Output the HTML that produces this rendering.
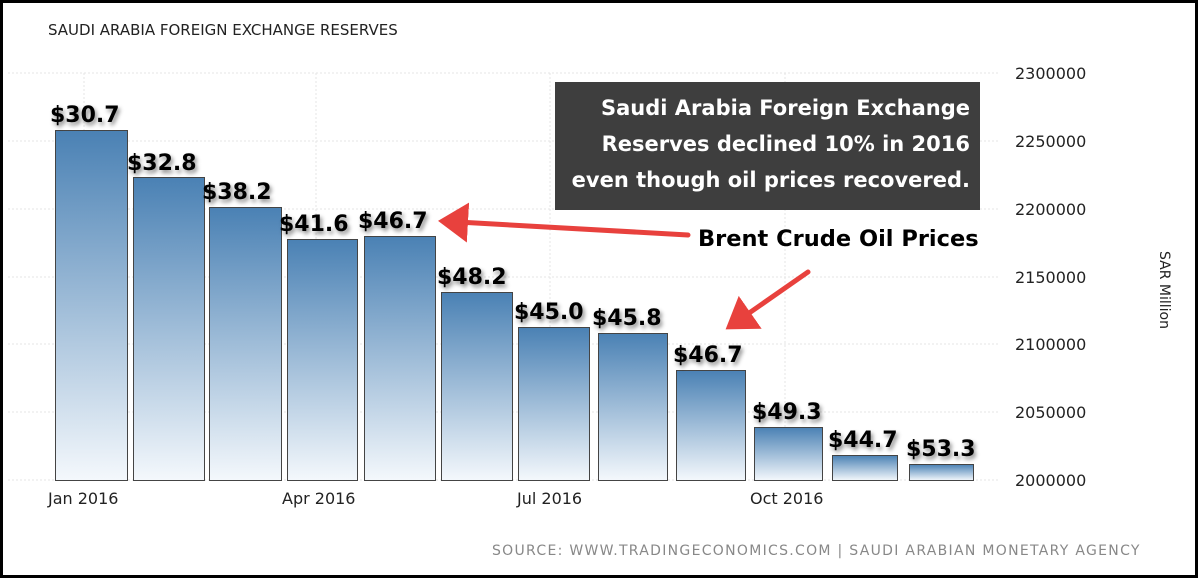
<!DOCTYPE html>
<html><head><style>
body{margin:0;width:1200px;height:580px;overflow:hidden;background:#fff;font-family:"DejaVu Sans","Liberation Sans",sans-serif;}
</style></head><body>
<svg width="1200" height="580" xmlns="http://www.w3.org/2000/svg">
<defs>
<linearGradient id="g" x1="0" y1="0" x2="0" y2="1"><stop offset="0" stop-color="#4a81b4"/><stop offset="1" stop-color="#f4f8fc"/></linearGradient>
<filter id="sh" x="-20%" y="-20%" width="140%" height="160%"><feDropShadow dx="2" dy="3" stdDeviation="2" flood-color="#000" flood-opacity="0.45"/></filter>
<marker id="ah" markerWidth="8" markerHeight="8" refX="2" refY="4" orient="auto" markerUnits="strokeWidth"><path d="M0,0 L6,4 L0,8 z" fill="#e8413d"/></marker>
</defs>
<rect x="1.5" y="1.5" width="1195" height="575" fill="#fff" stroke="#000" stroke-width="3"/>
<text x="48" y="35" font-size="15" fill="#222">SAUDI ARABIA FOREIGN EXCHANGE RESERVES</text>
<g stroke="#e4e4e4" stroke-dasharray="2,2" stroke-width="1">
<line x1="8" y1="73" x2="1000" y2="73"/><line x1="8" y1="141" x2="1000" y2="141"/><line x1="8" y1="209" x2="1000" y2="209"/><line x1="8" y1="277" x2="1000" y2="277"/><line x1="8" y1="344" x2="1000" y2="344"/><line x1="8" y1="412" x2="1000" y2="412"/><line x1="8" y1="480" x2="1000" y2="480"/>
<line x1="84" y1="73" x2="84" y2="480"/><line x1="316" y1="73" x2="316" y2="480"/><line x1="550" y1="73" x2="550" y2="480"/><line x1="785" y1="73" x2="785" y2="480"/>
</g>
<g font-size="16" fill="#222">
<text x="1015" y="79">2300000</text><text x="1015" y="147">2250000</text><text x="1015" y="215">2200000</text><text x="1015" y="283">2150000</text><text x="1015" y="350">2100000</text><text x="1015" y="418">2050000</text><text x="1015" y="486">2000000</text>
<text x="48" y="504">Jan 2016</text><text x="282" y="504">Apr 2016</text><text x="517" y="504">Jul 2016</text><text x="750" y="504">Oct 2016</text>
</g>
<text transform="translate(1160,290) rotate(90)" font-size="14" fill="#222" text-anchor="middle">SAR Million</text>
<g fill="url(#g)" stroke="#444" stroke-width="1">
<rect x="55.5" y="130.5" width="72" height="350"/>
<rect x="133.5" y="177.5" width="71" height="303"/>
<rect x="209.5" y="207.5" width="72" height="273"/>
<rect x="287.5" y="239.5" width="70" height="241"/>
<rect x="364.5" y="236.5" width="71" height="244"/>
<rect x="441.5" y="292.5" width="71" height="188"/>
<rect x="518.5" y="327.5" width="71" height="153"/>
<rect x="598.5" y="333.5" width="69" height="147"/>
<rect x="676.5" y="370.5" width="69" height="110"/>
<rect x="754.5" y="427.5" width="68" height="53"/>
<rect x="832.5" y="455.5" width="65" height="25"/>
<rect x="909.5" y="464.5" width="64" height="16"/>
</g>
<g font-size="22" font-weight="bold" fill="#000" filter="url(#sh)">
<text x="50" y="122">$30.7</text><text x="127" y="170">$32.8</text><text x="202" y="199">$38.2</text><text x="279" y="231">$41.6</text><text x="358" y="228">$46.7</text><text x="437" y="284">$48.2</text><text x="514" y="319">$45.0</text><text x="592" y="325">$45.8</text><text x="673" y="362">$46.7</text><text x="752" y="419">$49.3</text><text x="828" y="447">$44.7</text><text x="906" y="456">$53.3</text>
</g>
<rect x="555" y="82" width="425" height="128" fill="#3e3e3e"/>
<g font-size="21" font-weight="bold" fill="#fff" text-anchor="end">
<text x="970" y="115">Saudi Arabia Foreign Exchange</text>
<text x="970" y="151">Reserves declined 10% in 2016</text>
<text x="970" y="187">even though oil prices recovered.</text>
</g>
<text x="698" y="246" font-size="22.5" font-weight="bold" fill="#000">Brent Crude Oil Prices</text>
<g stroke="#e8413d" stroke-width="5" fill="none" stroke-linecap="round">
<line x1="688" y1="235" x2="458" y2="222" marker-end="url(#ah)"/>
<line x1="808" y1="272" x2="742" y2="318" marker-end="url(#ah)"/>
</g>
<text x="492" y="555" font-size="14" fill="#888" letter-spacing="1.3">SOURCE: WWW.TRADINGECONOMICS.COM | SAUDI ARABIAN MONETARY AGENCY</text>
</svg>
</body></html>
